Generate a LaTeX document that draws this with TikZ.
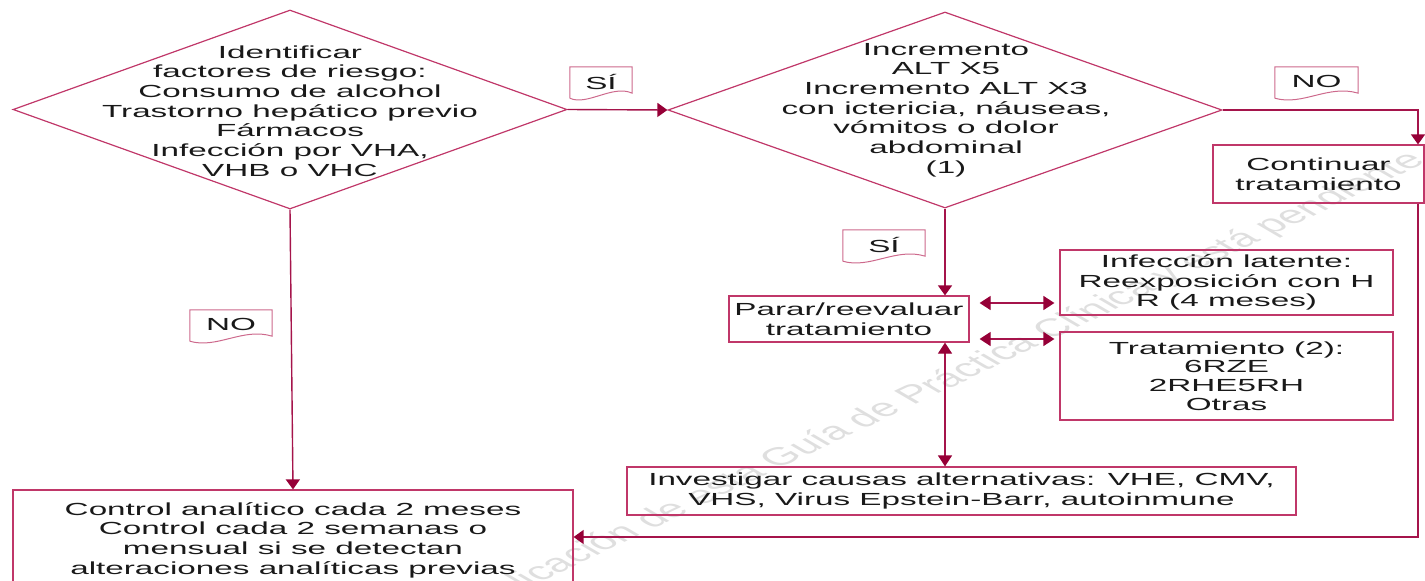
\documentclass[tikz,border=0pt]{standalone}
\usepackage{fontspec}
\setmainfont{Liberation Sans}[FakeStretch=1.9]
\newfontfamily\wmfont{Liberation Sans}
\usetikzlibrary{arrows.meta,shapes.geometric,calc}
\definecolor{linec}{RGB}{165,20,75}
\definecolor{tipc}{RGB}{150,0,55}
\definecolor{boxc}{RGB}{192,55,105}
\definecolor{lblc}{RGB}{205,105,140}
\definecolor{txtc}{RGB}{25,25,25}
\tikzset{
  txt/.style={align=center, inner sep=0pt, text=txtc},
  dia/.style={diamond, draw=boxc, line width=1.2pt, inner sep=0pt},
  boxn/.style={draw=boxc, line width=1.2pt, inner sep=0pt, align=center, text=txtc},
  lbln/.style={inner sep=0pt, text=txtc},
  lbld/.style={draw=lblc, line width=1pt},
  arr/.style={draw=linec, line width=1.4pt, -{Triangle[length=10pt,width=14pt,color=tipc]}},
  darr/.style={draw=linec, line width=1.2pt, {Triangle[length=11pt,width=14pt,color=tipc]}-{Triangle[length=11pt,width=14pt,color=tipc]}},
  wm/.style={text=gray!25, font=\wmfont\fontsize{25}{25}\selectfont, inner sep=0pt}
}
\newcommand\docbox[1]{%
  \draw[lbld] ($(#1.south west)+(0,2)$) -- (#1.north west) -- (#1.north east) -- ($(#1.south east)+(0,-3)$)
    .. controls ($(#1.south)+(12,-12)$) and ($(#1.south)+(-14,10)$) .. ($(#1.south west)+(0,2)$);}
\begin{document}
\begin{tikzpicture}[x=1pt,y=-1pt,font=\fontsize{17.5}{19.7}\selectfont]
\useasboundingbox (0,0) rectangle (1425,581);
% watermark
\begin{scope}
\clip (0,0) rectangle (1425,581);
\begin{scope}[shift={(938,385)}, xscale=1.9]
\node[wm, rotate=42, transform shape] (wmark) at (0,0) {publicación de esta Guía de Práctica Clínica y está pendiente};
\end{scope}
\end{scope}
% diamonds
\node[dia, minimum width=554pt, minimum height=199pt] (d1) at (290,109.5) {};
\node[txt] (d1t) at (290,111) {Identificar\\factores de riesgo:\\Consumo de alcohol\\Trastorno hepático previo\\Fármacos\\Infección por VHA,\\VHB o VHC};
\node[dia, minimum width=554pt, minimum height=196pt] (d2) at (945,110) {};
\node[txt] (d2t) at (946,110) {Incremento\\ALT X5\\Incremento ALT X3\\con ictericia, náuseas,\\vómitos o dolor\\abdominal\\(1)};
% boxes
\node[boxn, minimum width=211pt, minimum height=58pt] (cont) at (1318.5,174) {Continuar\\tratamiento};
\node[boxn, minimum width=240pt, minimum height=46pt] (parar) at (849,319) {Parar/reevaluar\\tratamiento};
\node[boxn, minimum width=333pt, minimum height=65pt] (inf) at (1226.5,282.5) {Infección latente:\\Reexposición con H\\R (4 meses)};
\node[boxn, minimum width=333pt, minimum height=88pt, font=\fontsize{17.5}{18.7}\selectfont] (trat) at (1226.5,376) {Tratamiento (2):\\6RZE\\2RHE5RH\\Otras};
\node[boxn, minimum width=669pt, minimum height=48pt] (inv) at (961.5,491) {Investigar causas alternativas: VHE, CMV,\\VHS, Virus Epstein-Barr, autoinmune};
\node[boxn, minimum width=560pt, minimum height=100pt] (ctrl) at (293,540) {Control analítico cada 2 meses\\Control cada 2 semanas o\\mensual si se detectan\\alteraciones analíticas previas};
% labels
\node[lbln, minimum width=62pt, minimum height=29pt] (l1) at (601,81.5) {SÍ};
\docbox{l1}
\node[lbln, minimum width=83pt, minimum height=29pt] (l2) at (1316.5,81.5) {NO};
\docbox{l2}
\node[lbln, minimum width=82pt, minimum height=29pt] (l3) at (884,244.5) {SÍ};
\docbox{l3}
\node[lbln, minimum width=82pt, minimum height=29pt] (l4) at (231,324.5) {NO};
\docbox{l4}
% helper coordinates
\coordinate (rx) at (1418,0);
\coordinate (loopy) at (0,537);
% connectors
\draw[arr] (d1.east) -- (d2.west);
\draw[arr] (d2.east) -| (cont.north -| rx);
\draw[arr] (cont.south -| rx) |- (ctrl.east |- loopy);
\draw[arr] (d2.south) -- (d2.south |- parar.north);
\draw[arr] (d1.south) -- (ctrl.north);
\draw[darr] ($(parar.east |- 0,303)+(10,0)$) -- ($(inf.west |- 0,303)+(-5,0)$);
\draw[darr] ($(parar.east |- 0,339)+(10,0)$) -- ($(trat.west |- 0,339)+(-5,0)$);
\draw[darr] (parar.south -| d2.south) -- (inv.north -| d2.south);
\end{tikzpicture}
\end{document}
